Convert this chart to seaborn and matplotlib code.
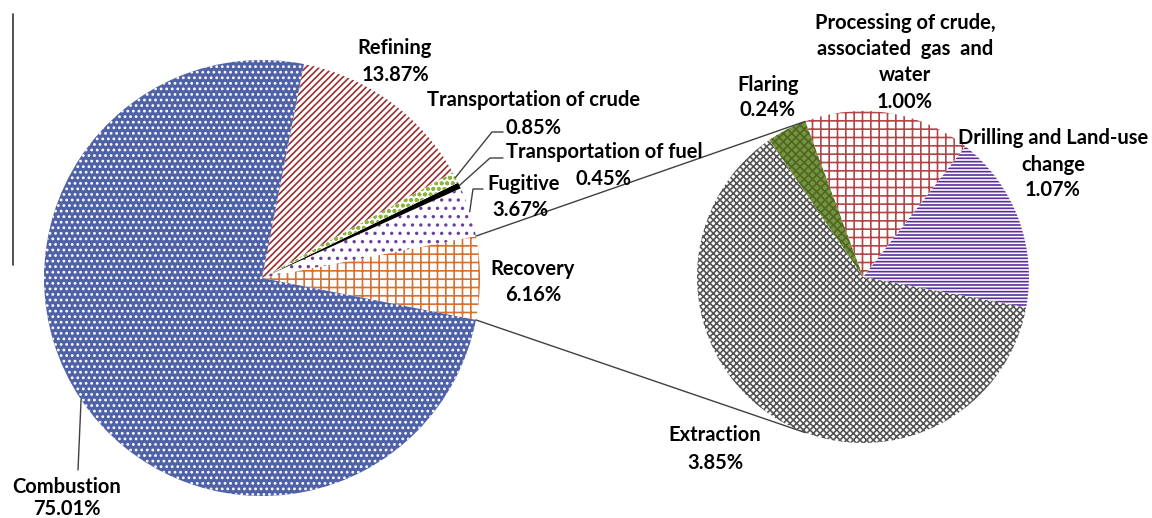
import numpy as np
import matplotlib
matplotlib.use("Agg")
import matplotlib.pyplot as plt
import seaborn as sns

# main pie (share of life-cycle emissions, %)
main_labels = ['Recovery', 'Fugitive', 'Transportation of fuel',
               'Transportation of crude', 'Refining', 'Combustion']
main_values = [6.16, 3.67, 0.45, 0.85, 13.87, 75.01]

# breakdown of Recovery
sub_labels = ['Drilling and Land-use change', 'Processing of crude, associated gas and water',
              'Flaring', 'Extraction']
sub_values = [1.07, 1.00, 0.24, 3.85]

sns.set_theme(style='white')
plt.rcParams['font.family'] = ['Lato', 'DejaVu Sans']
plt.rcParams['hatch.linewidth'] = 1.2

W, H = 1152, 518
fig = plt.figure(figsize=(W / 100, H / 100), dpi=100)
ax = fig.add_axes([0, 0, 1, 1])

def P(x, y):
    # picture coords (y down) -> axes coords
    return (x, H - y)

# ---- left pie, Recovery centred on the right
c1 = P(262, 278)
r1 = 218
start1 = -main_values[0] / 100 * 360 / 2
main_face = ['white', 'white', 'black', 'white', 'white', '#4F62A8']
main_edge = ['#D8702F', '#6A3FA0', 'black', '#8DB53C', '#9B2D2D', 'white']
main_hatch = ['++', '..', '', 'ooo', '/////', '...']

w1, _ = ax.pie(main_values, center=c1, radius=r1, startangle=start1,
               counterclock=True, frame=True)
for w, fc, ec, h in zip(w1, main_face, main_edge, main_hatch):
    w.set_facecolor(fc)
    w.set_edgecolor(ec)
    w.set_hatch(h)
    w.set_linewidth(0)

# ---- right pie (Recovery breakdown)
c2 = P(863, 277)
r2 = 166
start2 = -10.6
sub_face = ['white', 'white', '#77933C', 'white']
sub_edge = ['#5B2DA0', '#B4464A', '#4E6626', '#555555']
sub_hatch = ['-----', '++', 'xxxx', 'xxxxx']

w2, _ = ax.pie(sub_values, center=c2, radius=r2, startangle=start2,
               counterclock=True, frame=True)
for w, fc, ec, h in zip(w2, sub_face, sub_edge, sub_hatch):
    w.set_facecolor(fc)
    w.set_edgecolor(ec)
    w.set_hatch(h)
    w.set_linewidth(0)

ax.set_xlim(0, W)
ax.set_ylim(0, H)
ax.set_aspect('equal')
ax.axis('off')

def edge_pt(c, r, ang):
    a = np.deg2rad(ang)
    return (c[0] + r * np.cos(a), c[1] + r * np.sin(a))

# connector lines between pies
rec = w1[0]
up_a = edge_pt(c1, r1, rec.theta2)
lo_a = edge_pt(c1, r1, rec.theta1)
top_ang = w2[2].theta1
up_b = edge_pt(c2, r2, top_ang)
lo_b = edge_pt(c2, r2, -top_ang)
for a, b in [(up_a, up_b), (lo_a, lo_b)]:
    ax.plot([a[0], b[0]], [a[1], b[1]], color='#404040', lw=1)

# leader lines
def leader(wedge, c, r, pts):
    mid = (wedge.theta1 + wedge.theta2) / 2
    s = edge_pt(c, r, mid)
    xs = [s[0]] + [P(*p)[0] for p in pts]
    ys = [s[1]] + [P(*p)[1] for p in pts]
    ax.plot(xs, ys, color='#404040', lw=1)

leader(w1[3], c1, r1, [(492, 132), (503, 132)])
leader(w1[2], c1, r1, [(490, 158), (503, 158)])
leader(w1[1], c1, r1, [(473, 189), (483, 189)])
leader(w1[5], c1, r1, [(78, 470)])

# stray border line at the left
ax.plot([13, 13], [H - 14, H - 265], color='#333333', lw=1.2)

fs = 14.5
tk = dict(fontsize=fs, fontweight='bold', color='black', va='center')

def lab(x, y, s, ha='center'):
    ax.text(*P(x, y), s, ha=ha, **tk)

lab(395, 48, 'Refining')
lab(395, 75, '13.87%')
lab(427, 100, 'Transportation of crude', 'left')
lab(506, 128, '0.85%', 'left')
lab(506, 152, 'Transportation of fuel', 'left')
lab(576, 179, '0.45%', 'left')
lab(487, 184, 'Fugitive', 'left')
lab(520, 210, '3.67%')
lab(533, 269, 'Recovery')
lab(533, 295, '6.16%')
lab(67, 487, 'Combustion')
lab(67, 509, '75.01%')

lab(768, 85, 'Flaring')
lab(768, 110, '0.24%')
lab(905, 23, 'Processing of crude,')
lab(905, 49, 'associated  gas  and')
lab(905, 75, 'water')
lab(905, 102, '1.00%')
lab(1053, 138, 'Drilling and Land-use')
lab(1053, 165, 'change')
lab(1053, 190, '1.07%')
lab(715, 435, 'Extraction')
lab(715, 463, '3.85%')

fig.savefig('out.png', dpi=100)
